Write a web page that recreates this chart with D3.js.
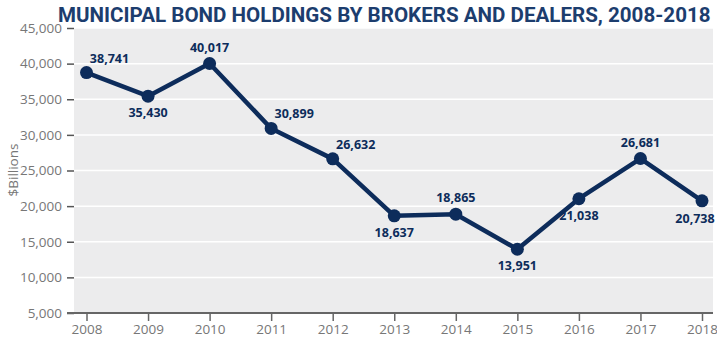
<!DOCTYPE html>
<html><head><meta charset="utf-8">
<script src="https://cdn.jsdelivr.net/npm/d3@7"></script>
<style>body{margin:0;background:#fff}svg{display:block}</style>
</head><body>
<svg id="c" width="717" height="339"></svg>
<script>
const years = [2008,2009,2010,2011,2012,2013,2014,2015,2016,2017,2018];
const holdings = [38741,35430,40017,30899,26632,18637,18865,13951,21038,26681,20738];
const yTicks = [5000,10000,15000,20000,25000,30000,35000,40000,45000];
const labelPlace = ['ar','b','a','ar','ar','b','a','b','b','a','bl'];
const title = "MUNICIPAL BOND HOLDINGS BY BROKERS AND DEALERS, 2008-2018";
const yTitle = "$Billions";

const svg = d3.select('#c');
const navy = '#0d2c5b';
const L = 74, R = 713, T = 28, B = 313;
const x = d3.scalePoint().domain(years).range([86.5, 702]);
const y = d3.scaleLinear().domain([5000,45000]).range([B, T]);

svg.append('rect').attr('x',L).attr('y',T).attr('width',R-L).attr('height',B-T).attr('fill','#ececed');

// gridlines
svg.append('g').selectAll('line').data(yTicks.slice(1)).join('line')
  .attr('x1',L).attr('x2',R).attr('y1',d=>y(d)).attr('y2',d=>y(d))
  .attr('stroke','#fff').attr('stroke-width',1.5);

// y axis
const ya = svg.append('g').attr('transform',`translate(${L},0)`)
  .call(d3.axisLeft(y).tickValues(yTicks).tickSize(7).tickPadding(5).tickFormat(d3.format(',')));
ya.select('.domain').remove();
ya.selectAll('line').attr('stroke','#555').attr('stroke-width',1.5);
ya.selectAll('text').attr('fill','#777').style('font-family','Open Sans').style('font-size','13.5px');

// x axis
const xa = svg.append('g').attr('transform',`translate(0,${B})`)
  .call(d3.axisBottom(x).tickSize(8).tickPadding(3).tickFormat(d3.format('d')));
xa.select('.domain').attr('d',`M67,0H${R}`).attr('stroke','#666').attr('stroke-width',2);
xa.selectAll('line').attr('stroke','#666').attr('stroke-width',1.5);
xa.selectAll('text').attr('fill','#777').style('font-family','Open Sans').style('font-size','13.5px');

// y title
svg.append('text').attr('transform','translate(18,170) rotate(-90)').attr('text-anchor','middle')
  .attr('fill','#777').style('font-family','Open Sans').style('font-size','13.5px').text(yTitle);

// title (horizontally condensed via scale transform)
const tg = svg.append('g');
const tt = tg.append('text').attr('x',0).attr('y',0)
  .attr('fill','#1c3d6e').style('font-family','Roboto, "Liberation Sans", sans-serif').style('font-weight','bold')
  .style('font-size','21px').text(title);
const natW = tt.node().getComputedTextLength() || 760;
tg.attr('transform',`translate(58,22) scale(${653/natW},1)`);

// line
const data = years.map((yr,i)=>({yr,v:holdings[i],p:labelPlace[i]}));
svg.append('path').datum(data)
  .attr('d', d3.line().x(d=>x(d.yr)).y(d=>y(d.v)))
  .attr('fill','none').attr('stroke',navy).attr('stroke-width',4.5).attr('stroke-linejoin','round');
svg.append('g').selectAll('circle').data(data).join('circle')
  .attr('cx',d=>x(d.yr)).attr('cy',d=>y(d.v)).attr('r',6.5).attr('fill',navy);

const off = {a:[0,-12], b:[0,21], ar:[23,-10], bl:[-7,22]};
svg.append('g').selectAll('text').data(data).join('text')
  .attr('x',d=>x(d.yr)+off[d.p][0]).attr('y',d=>y(d.v)+off[d.p][1])
  .attr('text-anchor','middle').attr('fill',navy)
  .style('font-family','Open Sans').style('font-weight','bold').style('font-size','12.5px')
  .text(d=>d3.format(',')(d.v));
</script>
</body></html>
